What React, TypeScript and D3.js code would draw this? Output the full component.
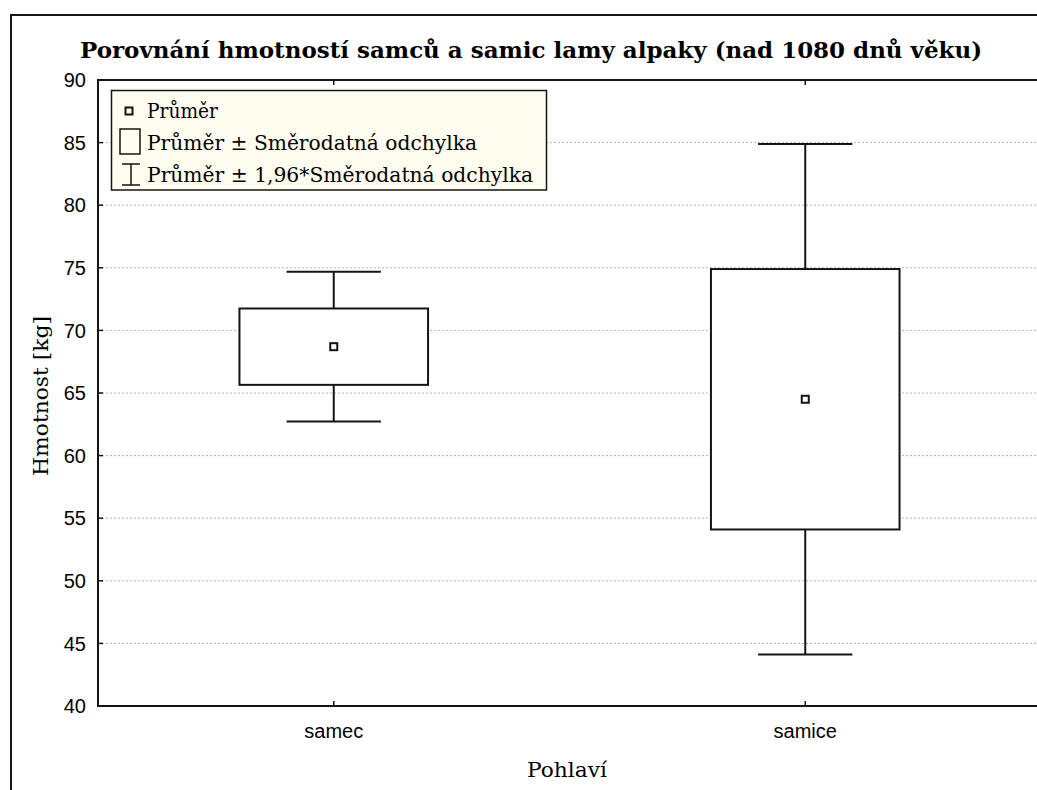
import React from 'react';
import * as d3 from 'd3';

const categories = ['samec', 'samice'];
const means = [68.7, 64.5];
const sds = [3.05, 10.4];
const factor = 1.96;
const yTicks = [40, 45, 50, 55, 60, 65, 70, 75, 80, 85, 90];
const title = 'Porovnání hmotností samců a samic lamy alpaky (nad 1080 dnů věku)';
const yLabel = 'Hmotnost [kg]';
const xLabel = 'Pohlaví';
const legendItems = ['Průměr', 'Průměr ± Směrodatná odchylka', 'Průměr ± 1,96*Směrodatná odchylka'];

const W = 1037, H = 790;
const plot = { left: 98, top: 80, right: 1041, bottom: 706 };
const serif = '"DejaVu Serif", serif';
const sans = '"Liberation Sans", Arial, sans-serif';
const ink = '#151515';

export default function App() {
  const y = d3.scaleLinear().domain([40, 90]).range([plot.bottom, plot.top]);
  const x = d3.scalePoint<string>().domain(categories).range([plot.left, plot.right]).padding(0.5);
  const step = x.step();
  const boxW = step * 0.4;
  const capW = step * 0.2;

  return (
    <svg width={W} height={H} style={{ position: 'absolute', left: 0, top: 0, background: '#fff' }}>
      <rect x={0} y={0} width={W} height={H} fill="#fff" />
      {/* outer frame */}
      <rect x={11} y={15} width={W + 20} height={H + 20} fill="none" stroke={ink} strokeWidth={2} />
      {/* title */}
      <text x={80} y={58} fontFamily={serif} fontWeight="bold" fontSize={23} textLength={902} lengthAdjust="spacingAndGlyphs" fill="#000">{title}</text>

      {/* grid */}
      {yTicks.filter(t => t > 40 && t < 90).map(t => (
        <line key={'g' + t} x1={plot.left} x2={plot.right} y1={y(t)} y2={y(t)} stroke="#b4b4b4" strokeWidth={1} strokeDasharray="2,2" />
      ))}

      {/* boxes */}
      {categories.map((c, i) => {
        const cx = x(c)!;
        const m = means[i], s = sds[i];
        const wTop = y(m + factor * s), wBot = y(m - factor * s);
        const bTop = y(m + s), bBot = y(m - s);
        return (
          <g key={c} stroke={ink} strokeWidth={2} fill="none">
            <line x1={cx} x2={cx} y1={wTop} y2={bTop} />
            <line x1={cx} x2={cx} y1={bBot} y2={wBot} />
            <line x1={cx - capW / 2} x2={cx + capW / 2} y1={wTop} y2={wTop} />
            <line x1={cx - capW / 2} x2={cx + capW / 2} y1={wBot} y2={wBot} />
            <rect x={cx - boxW / 2} y={bTop} width={boxW} height={bBot - bTop} fill="#fff" />
            <rect x={cx - 3.5} y={y(m) - 3.5} width={7} height={7} fill="#fff" />
          </g>
        );
      })}

      {/* plot frame */}
      <rect x={plot.left} y={plot.top} width={plot.right - plot.left} height={plot.bottom - plot.top} fill="none" stroke={ink} strokeWidth={2} />

      {/* y ticks */}
      {yTicks.map(t => (
        <g key={'y' + t}>
          <line x1={plot.left} x2={plot.left + 5} y1={y(t)} y2={y(t)} stroke={ink} strokeWidth={1.5} />
          <text x={86} y={y(t)} dy="0.36em" textAnchor="end" fontFamily={sans} fontSize={20} fill="#000">{t}</text>
        </g>
      ))}
      {/* x ticks */}
      {categories.map(c => (
        <g key={'x' + c}>
          <line x1={x(c)!} x2={x(c)!} y1={plot.bottom} y2={plot.bottom - 5} stroke={ink} strokeWidth={1.5} />
          <line x1={x(c)!} x2={x(c)!} y1={plot.top} y2={plot.top + 5} stroke={ink} strokeWidth={1.5} />
          <text x={x(c)!} y={738} textAnchor="middle" fontFamily={sans} fontSize={20} fill="#000">{c}</text>
        </g>
      ))}

      {/* axis labels */}
      <text x={567} y={777} textAnchor="middle" fontFamily={serif} fontSize={20} textLength={80} lengthAdjust="spacingAndGlyphs" fill="#000">{xLabel}</text>
      <text transform={`translate(48,396) rotate(-90)`} textAnchor="middle" fontFamily={serif} fontSize={20} textLength={160} lengthAdjust="spacingAndGlyphs" fill="#000">{yLabel}</text>

      {/* legend */}
      <g>
        <rect x={111.5} y={90.5} width={435} height={99.5} fill="#FFFCF0" stroke={ink} strokeWidth={1.5} />
        <rect x={125.5} y={107.5} width={7} height={7} fill="none" stroke={ink} strokeWidth={2} />
        <rect x={120} y={129} width={20} height={25} fill="none" stroke={ink} strokeWidth={1.5} />
        <g stroke={ink} strokeWidth={1.5}>
          <line x1={131} x2={131} y1={164} y2={185} />
          <line x1={122} x2={140} y1={164} y2={164} />
          <line x1={122} x2={140} y1={185} y2={185} />
        </g>
        {legendItems.map((t, i) => (
          <text key={t} x={147} y={118 + i * 32} fontFamily={serif} fontSize={20} textLength={[71, 330, 386][i]} lengthAdjust="spacingAndGlyphs" fill="#000">{t}</text>
        ))}
      </g>
    </svg>
  );
}
